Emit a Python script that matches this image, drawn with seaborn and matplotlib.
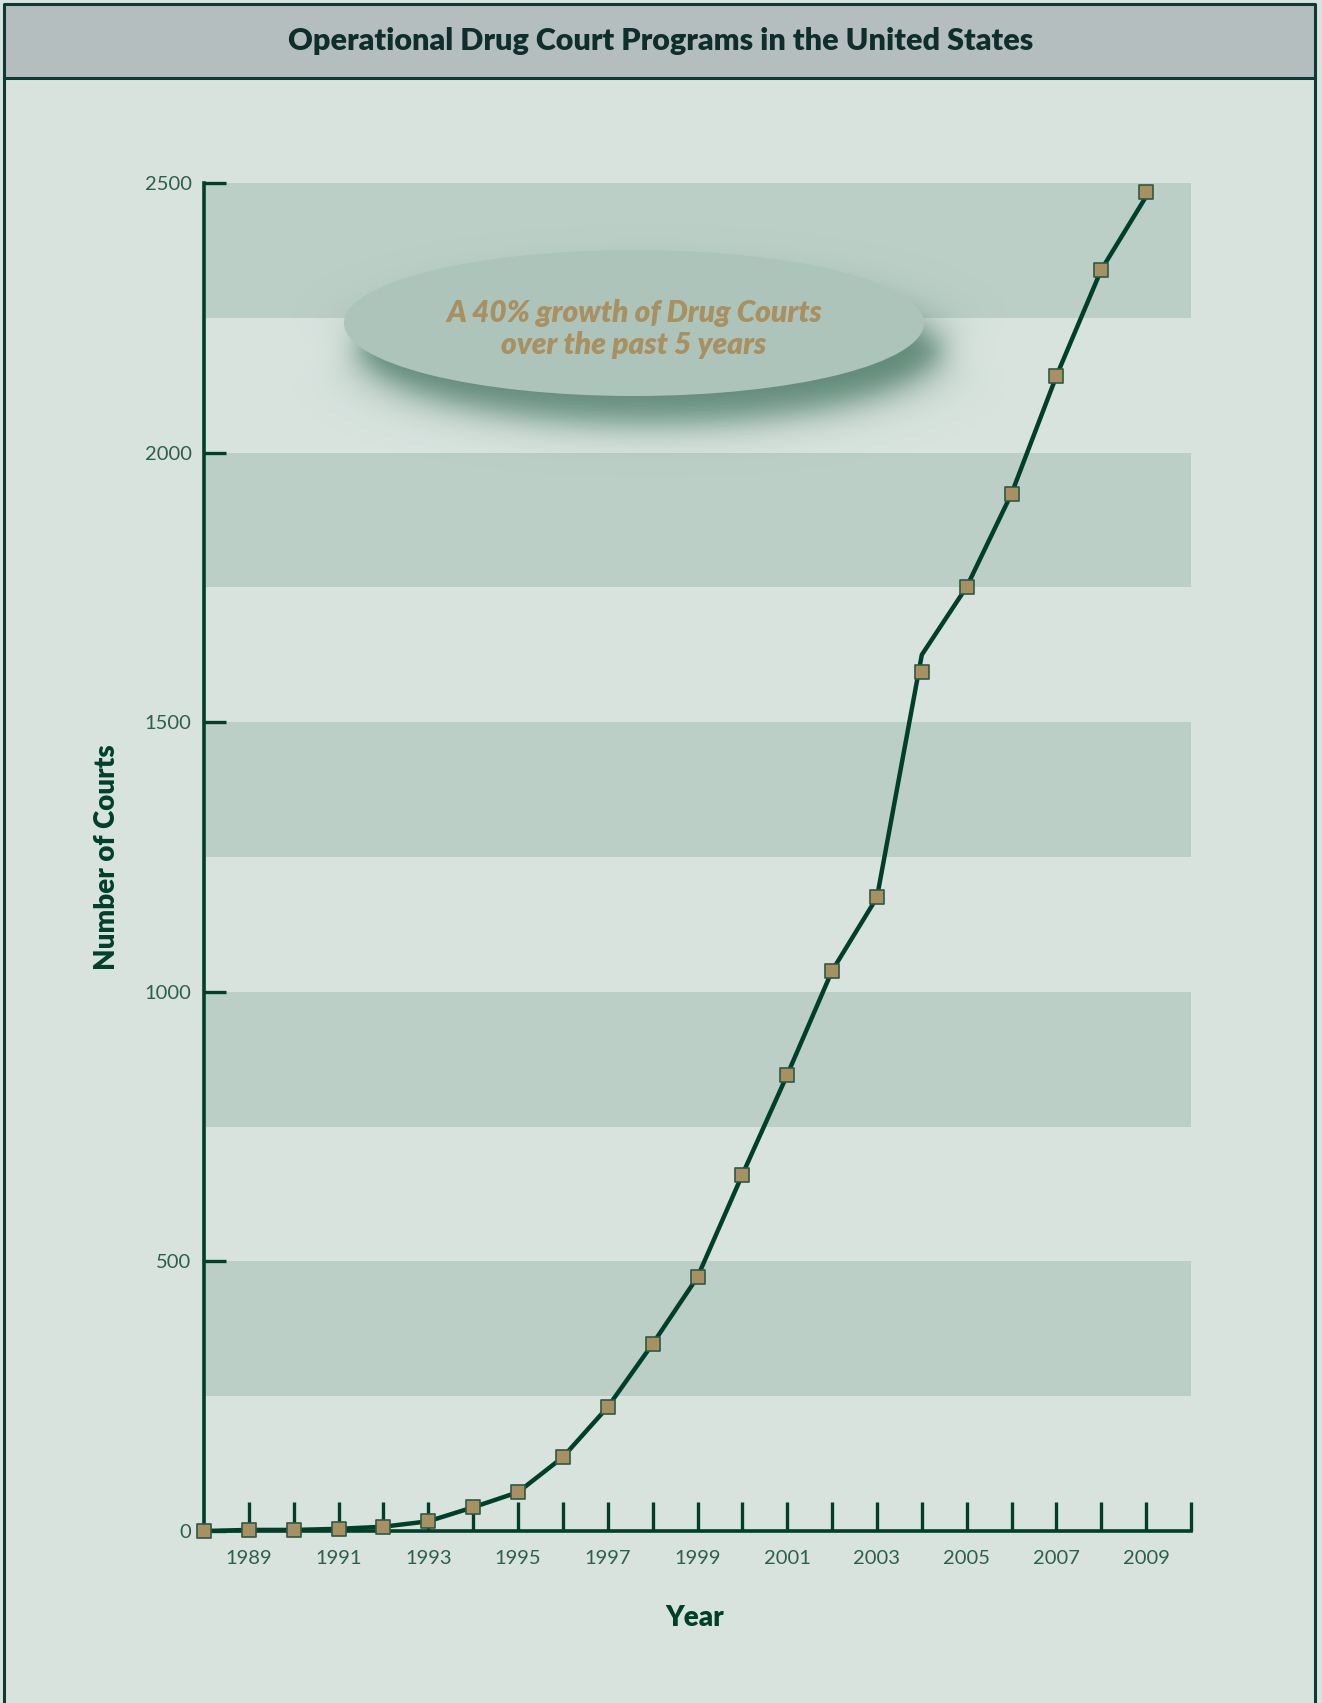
import numpy as np
import pandas as pd
import matplotlib.pyplot as plt
import seaborn as sns
from matplotlib.patches import Ellipse, Rectangle

sns.set_style("white")
plt.rcParams['font.family'] = ['Lato', 'DejaVu Sans']

# Data
years = list(range(1988, 2010))
courts = [0, 2, 2, 4, 8, 18, 44, 72, 137, 230, 347, 471, 661, 846,
          1039, 1175, 1593, 1751, 1924, 2142, 2339, 2483]
# the drawn line bends a little above the 2004 marker
line_courts = [0, 2, 2, 4, 8, 18, 44, 72, 137, 230, 347, 471, 661, 846,
               1039, 1175, 1625, 1751, 1924, 2142, 2339, 2475]
y_ticks = [0, 500, 1000, 1500, 2000, 2500]
band_lows = [250, 750, 1250, 1750, 2250]
note = "A 40% growth of Drug Courts\nover the past 5 years"

df = pd.DataFrame({'Year': years, 'Courts': courts})
df_line = pd.DataFrame({'Year': years, 'Courts': line_courts})

# Colours
bg = '#d8e3de'
band = '#bccfc7'
head = '#b5bebe'
dark = '#00402b'
tan = '#a89060'
W, H = 1322, 1703

fig = plt.figure(figsize=(W / 100, H / 100), dpi=100, facecolor=bg)

# main chart
ax = fig.add_axes([204 / W, 1 - 1531 / H, (1191 - 204) / W, (1531 - 183) / H])
ax.set_facecolor(bg)
for lo in band_lows:
    ax.axhspan(lo, lo + 250, color=band, lw=0, zorder=0)

sns.lineplot(data=df_line, x='Year', y='Courts', ax=ax, color=dark, lw=3.2,
             zorder=3, clip_on=False)
sns.scatterplot(data=df, x='Year', y='Courts', ax=ax, marker='s', s=90,
                color=tan, edgecolor='#2d5a45', linewidth=1.2, zorder=4,
                clip_on=False)

ax.set_xlim(1988, 2010)
ax.set_ylim(0, 2500)
ax.set_yticks(y_ticks)
ax.set_yticklabels([str(v) for v in y_ticks])
xt = list(range(1989, 2011))
ax.set_xticks(xt)
ax.set_xticklabels([str(y) if y % 2 == 1 and y < 2010 else '' for y in xt])

for s in ['top', 'right']:
    ax.spines[s].set_visible(False)
for s in ['left', 'bottom']:
    ax.spines[s].set_color(dark)
    ax.spines[s].set_linewidth(2.6)

ax.tick_params(axis='x', bottom=True, direction='in', length=21, width=2.4,
               color=dark, pad=14, labelsize=14.5, labelcolor='#2d5f4f')
ax.tick_params(axis='y', left=True, direction='in', length=16, width=2.4,
               color=dark, pad=9, labelsize=14.5, labelcolor='#2d5f4f')

ax.set_xlabel('Year', fontsize=20, fontweight='heavy', color=dark)
ax.set_ylabel('Number of Courts', fontsize=20, fontweight='heavy', color=dark)
ax.xaxis.set_label_coords(0.497, -(1605 - 1531) / (1531 - 183))
ax.yaxis.set_label_coords(-(204 - 120) / (1191 - 204), 0.5)

# overlay in pixel coordinates for frame, header and callout
deco = fig.add_axes([0, 0, 1, 1], zorder=5)
deco.set_xlim(0, W)
deco.set_ylim(H, 0)
deco.axis('off')
deco.patch.set_alpha(0)

deco.add_patch(Rectangle((4, 4), 1311, 74, facecolor=head, edgecolor='none'))
deco.plot([4, 4], [H + 5, 4], color='#0d3b33', lw=2.2, solid_capstyle='butt')
deco.plot([1315, 1315], [H + 5, 4], color='#0d3b33', lw=2.2, solid_capstyle='butt')
deco.plot([4, 1315], [4, 4], color='#0d3b33', lw=2.2)
deco.plot([4, 1315], [78, 78], color='#0d3b33', lw=2.2)
deco.text(W / 2, 41, 'Operational Drug Court Programs in the United States',
          ha='center', va='center', fontsize=22, fontweight='heavy',
          color='#0d2e2b')

# soft shadow under the ellipse
cx, cy, a, b = 634, 323, 290, 73
sx, sy = cx + 16, cy + 28
gx, gy = np.meshgrid(np.arange(cx - a - 80, cx + a + 110),
                     np.arange(cy - b - 60, cy + b + 120))
dx, dy = gx - sx, gy - sy
r = np.sqrt((dx / a) ** 2 + (dy / b) ** 2)
grad = np.sqrt((dx / a ** 2) ** 2 + (dy / b ** 2) ** 2) / np.maximum(r, 1e-6)
dist = (r - 1) / np.maximum(grad, 1e-6)
alpha = 0.9 * 0.5 * (1 - np.tanh(dist / 20))
rgba = np.zeros(gx.shape + (4,))
rgba[..., 0], rgba[..., 1], rgba[..., 2] = 0x55 / 255, 0x82 / 255, 0x70 / 255
rgba[..., 3] = alpha
deco.imshow(rgba, extent=(gx.min(), gx.max(), gy.max(), gy.min()),
            aspect='auto', zorder=1, interpolation='bilinear')
deco.set_xlim(0, W)
deco.set_ylim(H, 0)
deco.add_patch(Ellipse((cx, cy), 2 * a, 2 * b, facecolor='#adc4ba',
                       edgecolor='none', zorder=2))
deco.text(cx, cy + 6, note, ha='center', va='center', fontsize=21.5,
          fontweight='heavy', fontstyle='italic', color=tan,
          linespacing=1.2, zorder=3)

fig.savefig('out.png', dpi=100, facecolor=bg)
